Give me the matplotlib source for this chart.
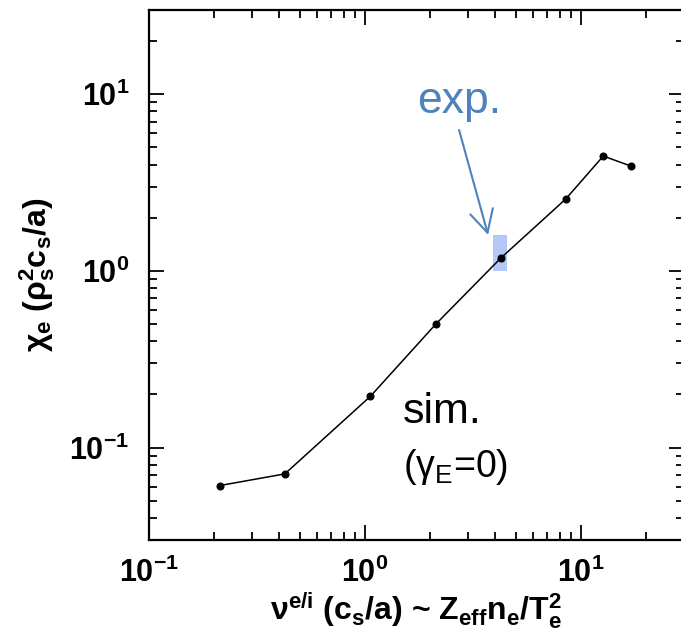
import matplotlib
matplotlib.use("Agg")
import matplotlib.pyplot as plt
from matplotlib.patches import Rectangle
from matplotlib.ticker import LogLocator, NullFormatter

plt.rcParams["font.family"] = ["Liberation Sans", "DejaVu Sans"]
plt.rcParams["font.weight"] = "bold"
plt.rcParams["mathtext.fontset"] = "custom"
plt.rcParams["mathtext.rm"] = "Liberation Sans"
plt.rcParams["mathtext.it"] = "Liberation Sans:italic"
plt.rcParams["mathtext.bf"] = "Liberation Sans:bold"

# simulated collisionality scan
nu = [0.213, 0.426, 1.06, 2.13, 4.25, 8.5, 12.7, 17.0]
chi_e = [0.061, 0.071, 0.195, 0.50, 1.18, 2.55, 4.47, 3.93]

# experimental window
exp_x = [3.9, 4.55]
exp_y = [1.0, 1.6]

BLUE = "#4f81bd"
RECT = "#b4c8f8"

fig = plt.figure(figsize=(6.81, 6.38), dpi=100)
# right spine sits just past the picture edge in the reference
ax = fig.add_axes([148.9 / 681, 98 / 638, (683.9 - 148.9) / 681, 530 / 638])

ax.add_patch(Rectangle((exp_x[0], exp_y[0]), exp_x[1] - exp_x[0],
                       exp_y[1] - exp_y[0], facecolor=RECT, edgecolor="none",
                       zorder=1))
ax.plot(nu, chi_e, color="black", lw=1.1, marker="o", ms=4.8, zorder=3)

ax.set_xscale("log")
ax.set_yscale("log")
ax.set_xlim(0.1, 30)
ax.set_ylim(0.03, 30)

for axis in (ax.xaxis, ax.yaxis):
    axis.set_major_locator(LogLocator(base=10, numticks=10))
    axis.set_minor_locator(LogLocator(base=10, subs=range(2, 10), numticks=20))
    axis.set_minor_formatter(NullFormatter())

ax.tick_params(which="both", direction="in", top=True, right=True, width=1.3)
ax.tick_params(which="major", length=11, labelsize=22)
ax.tick_params(which="minor", length=6)
ax.tick_params(axis="x", which="major", pad=13)
ax.tick_params(axis="y", which="major", pad=14)
for sp in ax.spines.values():
    sp.set_linewidth(1.6)

ax.set_xlabel(r"ν$^\mathdefault{e/i}$ (c$_\mathdefault{s}$/a) ~ "
              r"Z$_\mathdefault{eff}$n$_\mathdefault{e}$/T$_\mathdefault{e}^\mathdefault{2}$",
              fontsize=23, fontweight="bold", labelpad=1)
ax.set_ylabel(r"χ$_\mathdefault{e}$ (ρ$_\mathdefault{s}^\mathdefault{2}$"
              r"c$_\mathdefault{s}$/a)", fontsize=23, fontweight="bold", labelpad=9)

ax.annotate("", xy=(3.72, 1.60), xytext=(2.73, 6.28),
            arrowprops=dict(arrowstyle="->,head_length=0.8,head_width=0.42",
                            color=BLUE, lw=1.5, shrinkA=0, shrinkB=0,
                            mutation_scale=20))
ax.text(1.743, 7.81, "exp.", color=BLUE, fontsize=32, fontweight="normal",
        ha="left", va="baseline")
ax.text(1.502, 0.1375, "sim.", color="black", fontsize=31, fontweight="normal",
        ha="left", va="baseline")
ax.text(1.502, 0.0686, r"(γ$_\mathdefault{E}$=0)", color="black", fontsize=27,
        fontweight="normal", ha="left", va="baseline")

fig.savefig("out.png", dpi=100)
